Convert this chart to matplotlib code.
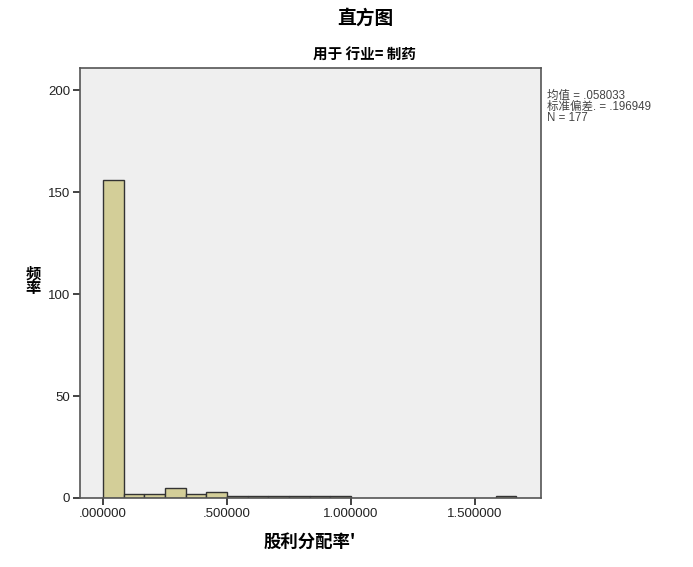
import numpy as np
import matplotlib
matplotlib.use("Agg")
import matplotlib.pyplot as plt

plt.rcParams['font.family'] = ['Noto Sans CJK SC', 'DejaVu Sans']

# Histogram bins (width = 1/12) and counts
bin_width = 1.0 / 12
bin_starts = [i * bin_width for i in range(12)] + [19 * bin_width]
counts = [156, 2, 2, 5, 2, 3, 1, 1, 1, 1, 1, 1, 1]

x_ticks = [0.0, 0.5, 1.0, 1.5]
x_tick_labels = ['.000000', '.500000', '1.000000', '1.500000']
y_ticks = [0, 50, 100, 150, 200]

stats_text = ['均值 = .058033', '标准偏差. = .196949', 'N = 177']

arial = ['Liberation Sans', 'Noto Sans CJK SC']

fig = plt.figure(figsize=(6.93, 5.67), dpi=100)
ax = fig.add_axes([80 / 693, 69 / 567, 461 / 693, 430 / 567])
ax.set_facecolor('#efefef')

ax.bar(bin_starts, counts, width=bin_width, align='edge',
       color='#d3ce98', edgecolor='#333333', linewidth=1.0)

ax.set_xlim(-0.093, 1.766)
ax.set_ylim(0, 210.8)
ax.set_xticks(x_ticks)
ax.set_xticklabels(x_tick_labels, family=arial, fontsize=9.5)
ax.set_yticks(y_ticks)
ax.set_yticklabels([str(v) for v in y_ticks], family=arial, fontsize=9.5)
ax.tick_params(direction='out', length=5, width=1.2, colors='#222222', pad=2)

for s in ax.spines.values():
    s.set_color('#555555')
    s.set_linewidth(1.2)

fig.text(365 / 693, 1 - 18 / 567, '直方图', ha='center', va='center',
         fontsize=13.5, fontweight='bold')
fig.text(364 / 693, 1 - 55 / 567, '用于 行业= 制药', ha='center', va='center',
         fontsize=10.5, fontweight='bold')
fig.text(33 / 693, 1 - 281 / 567, '频\n率', ha='center', va='center',
         fontsize=11, fontweight='bold', linespacing=0.9)
fig.text(310 / 693, 1 - 542 / 567, "股利分配率'", ha='center', va='center',
         fontsize=12.5, fontweight='bold')

# stats box to the right of the plot
fig.text(547 / 693, 1 - 107 / 567, '\n'.join(stats_text), ha='left', va='center',
         family=arial, fontsize=8.3, color='#444444', linespacing=0.85)

fig.savefig('out.png', dpi=100)
